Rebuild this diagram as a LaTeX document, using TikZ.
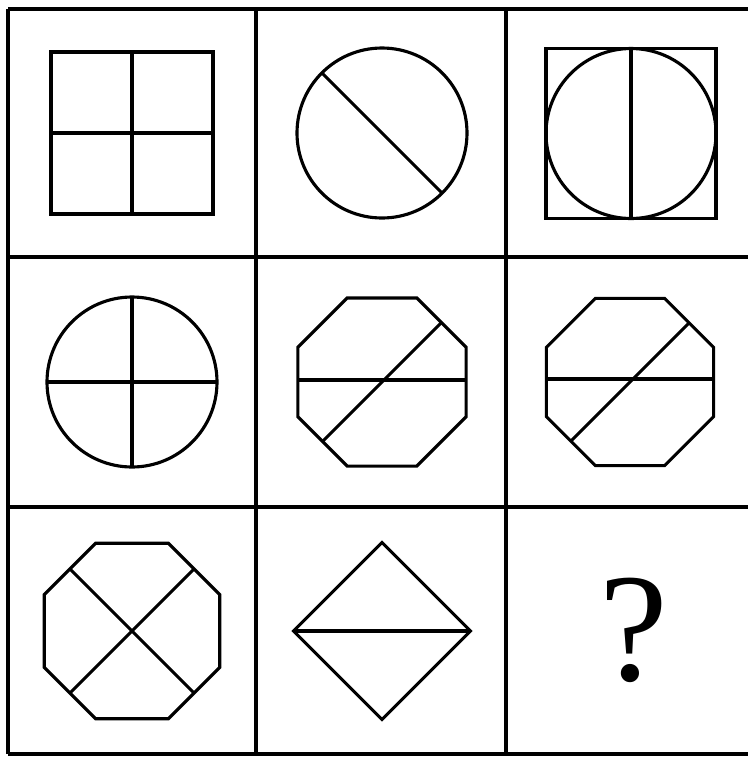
\documentclass[tikz,border=0pt]{standalone}
\usepackage{fontspec}
\newfontfamily\qfont{Liberation Serif}
\begin{document}
\begin{tikzpicture}[x=0.75pt,y=-0.75pt,
  gridline/.style={line width=2.5pt,black},
  shapeline/.style={line width=2.35pt,black,line join=miter}]
\useasboundingbox (0,0) rectangle (748,758);
% grid
\draw[gridline] (8,9) -- (748,9);
\draw[gridline] (8,257) -- (748,257);
\draw[gridline] (8,507) -- (748,507);
\draw[gridline] (8,754) -- (748,754);
\draw[gridline] (8,9) -- (8,754);
\draw[gridline] (256,9) -- (256,754);
\draw[gridline] (506,9) -- (506,754);
% row 1, cell 1: square with cross
\begin{scope}[shift={(132,133)}]
  \draw[shapeline] (-81,-81) rectangle (81,81);
  \draw[shapeline] (0,-81) -- (0,81);
  \draw[shapeline] (-81,0) -- (81,0);
\end{scope}
% row 1, cell 2: circle with diagonal (upper-left to lower-right)
\begin{scope}[shift={(382,133)}]
  \draw[shapeline] (0,0) circle[radius=63.75pt];
  \draw[shapeline] (225:85) -- (45:85);
\end{scope}
% row 1, cell 3: square with circle and vertical line
\begin{scope}[shift={(631,133.5)}]
  \draw[shapeline] (-85,-85) rectangle (85,85);
  \draw[shapeline] (0,0) circle[radius=63.75pt];
  \draw[shapeline] (0,-85) -- (0,85);
\end{scope}
% row 2, cell 1: circle with cross
\begin{scope}[shift={(132,382)}]
  \draw[shapeline] (0,0) circle[radius=63.75pt];
  \draw[shapeline] (0,-85) -- (0,85);
  \draw[shapeline] (-85,0) -- (85,0);
\end{scope}
% row 2, cell 2: octagon
\begin{scope}[shift={(382,382)}]
  \draw[shapeline] (22.5:91) \foreach \a in {67.5,112.5,...,337.5} {-- (\a:91)} -- cycle;
  \draw[shapeline] (-84.1,-2) -- (84.1,-2);
  \draw[shapeline] (135:84.1) -- (315:84.1);
\end{scope}
% row 2, cell 3: octagon
\begin{scope}[shift={(630,382)}]
  \draw[shapeline] (22.5:90.5) \foreach \a in {67.5,112.5,...,337.5} {-- (\a:90.5)} -- cycle;
  \draw[shapeline] (-83.6,-3) -- (83.6,-3);
  \draw[shapeline] (135:83.6) -- (315:83.6);
\end{scope}
% row 3, cell 1: octagon with X
\begin{scope}[shift={(132,631)}]
  \draw[shapeline] (22.5:95) \foreach \a in {67.5,112.5,...,337.5} {-- (\a:95)} -- cycle;
  \draw[shapeline] (225:87.8) -- (45:87.8);
  \draw[shapeline] (135:87.8) -- (315:87.8);
\end{scope}
% row 3, cell 2: diamond with horizontal line
\begin{scope}[shift={(382,631)}]
  \draw[shapeline] (0,-88.5) -- (88.5,0) -- (0,88.5) -- (-88.5,0) -- cycle;
  \draw[shapeline] (-88.5,0) -- (88.5,0);
\end{scope}
% row 3, cell 3: question mark
\node[inner sep=0pt,anchor=center] (q) at (634,630) {\qfont\fontsize{116}{116}\selectfont ?};
\end{tikzpicture}
\end{document}
